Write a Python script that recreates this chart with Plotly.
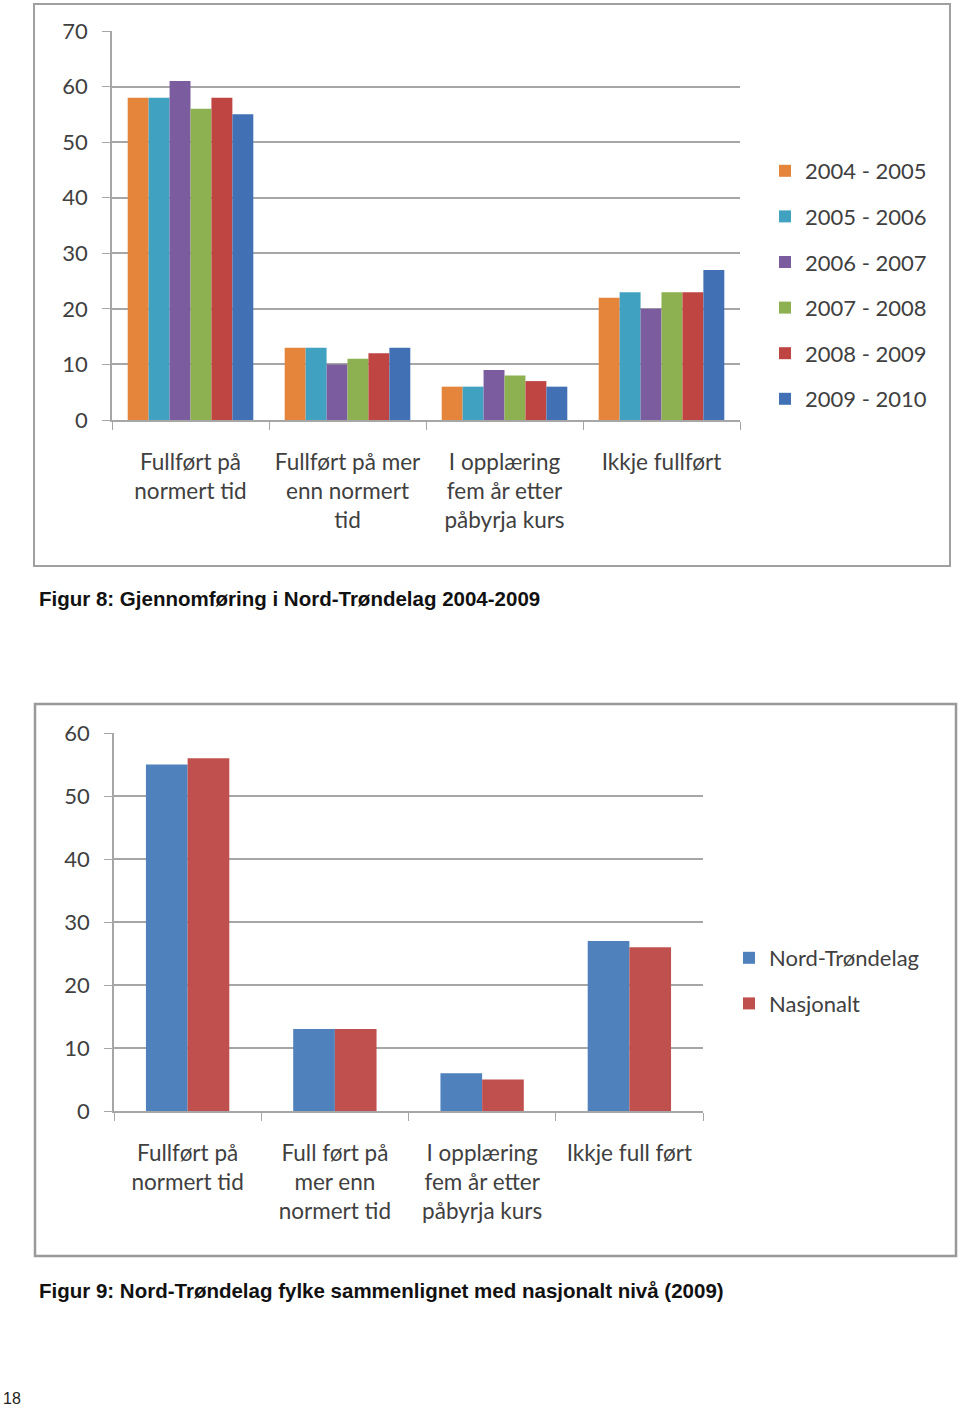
import plotly.graph_objects as go

W, H = 960, 1410

# ---- data ----
cats_top = ["Fullført på<br>normert tid", "Fullført på mer<br>enn normert<br>tid",
            "I opplæring<br>fem år etter<br>påbyrja kurs", "Ikkje fullført"]
years = ["2004 - 2005", "2005 - 2006", "2006 - 2007", "2007 - 2008", "2008 - 2009", "2009 - 2010"]
v_2004 = [58, 13, 6, 22]
v_2005 = [58, 13, 6, 23]
v_2006 = [61, 10, 9, 20]
v_2007 = [56, 11, 8, 23]
v_2008 = [58, 12, 7, 23]
v_2009 = [55, 13, 6, 27]
top_vals = [v_2004, v_2005, v_2006, v_2007, v_2008, v_2009]
top_colors = ["#E5853B", "#40A2C0", "#7B5C9F", "#8DB050", "#BF4542", "#4171B4"]

cats_bot = ["Fullført på<br>normert tid", "Full ført på<br>mer enn<br>normert tid",
            "I opplæring<br>fem år etter<br>påbyrja kurs", "Ikkje full ført"]
series_bot = ["Nord-Trøndelag", "Nasjonalt"]
v_nt = [55, 13, 6, 27]
v_nas = [56, 13, 5, 26]
bot_colors = ["#4F81BD", "#C0504D"]

FONT = "Lato, 'Open Sans', sans-serif"
TXT = "#404040"
GRID = "#A6A6A6"


def px_x(x):
    return x / W


def px_y(y):
    return 1 - y / H


fig = go.Figure()

for i, (name, vals) in enumerate(zip(years, top_vals)):
    fig.add_trace(go.Bar(x=cats_top, y=vals, name=name, marker_color=top_colors[i],
                         marker_line_width=0, xaxis="x", yaxis="y",
                         legend="legend", legendgroup=name))

BW = 0.283
for i, (name, vals) in enumerate(zip(series_bot, [v_nt, v_nas])):
    fig.add_trace(go.Bar(x=cats_bot, y=vals, name=name, marker_color=bot_colors[i],
                         marker_line_width=0, xaxis="x2", yaxis="y2",
                         width=BW, offset=-BW + i * BW,
                         legend="legend2", legendgroup=name))

xaxis_common = dict(showline=True, linecolor=GRID, linewidth=1.5, type="category",
                    ticks="outside", tickson="boundaries", ticklen=8, tickcolor=GRID,
                    showgrid=False, ticklabelstandoff=21,
                    tickfont=dict(family=FONT, size=22.5, color=TXT))
yaxis_common = dict(showline=True, linecolor=GRID, linewidth=1.5, dtick=10,
                    ticks="outside", ticklen=8, tickcolor=GRID, showgrid=True,
                    gridcolor=GRID, gridwidth=1.5, zeroline=False,
                    ticklabelstandoff=10,
                    tickfont=dict(family=FONT, size=22, color=TXT))

fig.update_layout(
    width=W, height=H, margin=dict(l=0, r=0, t=0, b=0, autoexpand=False),
    paper_bgcolor="white", plot_bgcolor="white",
    barmode="group", bargap=0.2, bargroupgap=0, showlegend=True,
    xaxis=dict(domain=[px_x(112), px_x(740)], anchor="y", **xaxis_common),
    yaxis=dict(domain=[px_y(420), px_y(31)], anchor="x", range=[0, 70], **yaxis_common),
    xaxis2=dict(domain=[px_x(114), px_x(703)], anchor="y2", **xaxis_common),
    yaxis2=dict(domain=[px_y(1111), px_y(733)], anchor="x2", range=[0, 60], **yaxis_common),
    legend=dict(x=px_x(765), y=px_y(150), xanchor="left", yanchor="top",
                font=dict(family=FONT, size=22, color=TXT),
                traceorder="grouped", tracegroupgap=14, bgcolor="rgba(0,0,0,0)"),
    legend2=dict(x=px_x(729), y=px_y(937), xanchor="left", yanchor="top",
                 font=dict(family=FONT, size=22, color=TXT),
                 traceorder="grouped", tracegroupgap=14, bgcolor="rgba(0,0,0,0)"),
)

# Chart frames
fig.add_shape(type="rect", xref="paper", yref="paper",
              x0=px_x(34), x1=px_x(950), y0=px_y(566), y1=px_y(4),
              line=dict(color="#A0A0A0", width=2), fillcolor="rgba(0,0,0,0)", layer="below")
fig.add_shape(type="rect", xref="paper", yref="paper",
              x0=px_x(35), x1=px_x(956), y0=px_y(1256), y1=px_y(704),
              line=dict(color="#999999", width=2.5), fillcolor="rgba(0,0,0,0)", layer="below")

CAP_FONT = dict(family="Liberation Sans, Arial, sans-serif", size=20.5, color="#111111")
fig.add_annotation(text="<b>Figur 8: Gjennomføring i Nord-Trøndelag 2004-2009</b>",
                   xref="paper", yref="paper", x=px_x(37), y=px_y(598),
                   xanchor="left", yanchor="middle", showarrow=False, font=CAP_FONT)
fig.add_annotation(text="<b>Figur 9: Nord-Trøndelag fylke sammenlignet med nasjonalt nivå (2009)</b>",
                   xref="paper", yref="paper", x=px_x(37), y=px_y(1290),
                   xanchor="left", yanchor="middle", showarrow=False, font=CAP_FONT)
fig.add_annotation(text="18", xref="paper", yref="paper", x=px_x(1), y=px_y(1398),
                   xanchor="left", yanchor="middle", showarrow=False,
                   font=dict(family="Liberation Sans, Arial, sans-serif", size=16, color="#222222"))

fig.write_html("out.html", config={"displayModeBar": False},
               post_script="document.body.style.margin='0';document.body.style.overflow='hidden';")
